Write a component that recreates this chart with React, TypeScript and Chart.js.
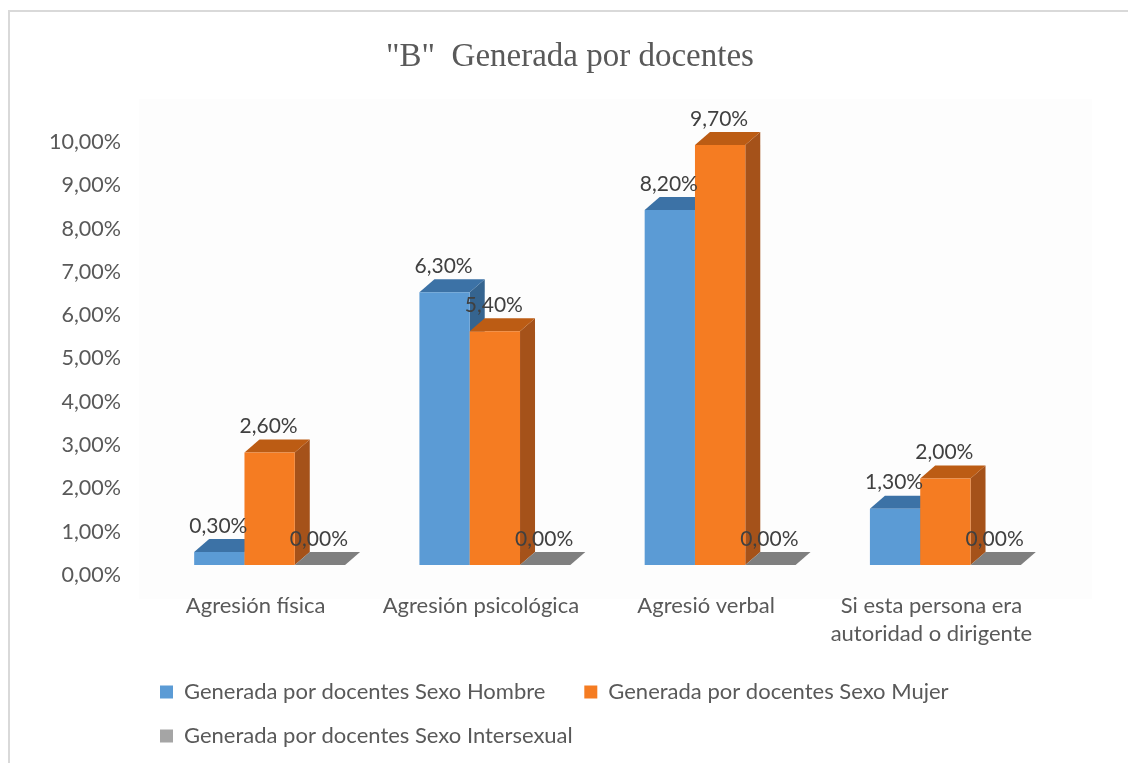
import React, { useEffect, useRef } from "react";
import { Chart, registerables } from "chart.js";

Chart.register(...registerables);

const titleText = '"B"  Generada por docentes';
const categories: (string | string[])[] = [
  "Agresión física",
  "Agresión psicológica",
  "Agresió verbal",
  ["Si esta persona era", "autoridad o dirigente"],
];
const seriesNames = [
  "Generada por docentes Sexo Hombre",
  "Generada por docentes Sexo Mujer",
  "Generada por docentes Sexo Intersexual",
];
const hombre = [0.3, 6.3, 8.2, 1.3];
const mujer = [2.6, 5.4, 9.7, 2.0];
const intersexual = [0, 0, 0, 0];
const frontColors = ["#5B9BD5", "#F57C22", "#A5A5A5"];
const topColors = ["#3C72A6", "#BC5C14", "#7F7F7F"];
const sideColors = ["#35648F", "#A5521A", "#6E6E6E"];

const DX = 15;
const DY = 13;
const FONT = "Lato, Carlito, sans-serif";
const fmt = (v: number) => v.toFixed(2).replace(".", ",") + "%";

const framePlugin = {
  id: "frame",
  beforeDraw(chart: any) {
    const c = chart.ctx;
    c.save();
    c.fillStyle = "#FDFDFD";
    c.fillRect(139, 99, 953, 500);
    c.fillStyle = "#D9D9D9";
    c.fillRect(8, 10, 2, 753);
    c.fillRect(8, 10, 1120, 2);
    c.restore();
  },
};

const legendPlacePlugin = {
  id: "legendPlace",
  afterLayout(chart: any) {
    const l = chart.legend;
    l.left = 138;
    l.top = 659;
  },
};

const bars3dPlugin = {
  id: "bars3d",
  beforeDatasetsDraw(chart: any) {
    const c = chart.ctx;
    chart.data.datasets.forEach((_ds: any, i: number) => {
      const meta = chart.getDatasetMeta(i);
      meta.data.forEach((el: any) => {
        const l = el.x - el.width / 2;
        const r = el.x + el.width / 2;
        const y = el.y;
        const b = el.base;
        c.fillStyle = sideColors[i];
        c.beginPath();
        c.moveTo(r, y);
        c.lineTo(r, b);
        c.lineTo(r + DX, b - DY);
        c.lineTo(r + DX, y - DY);
        c.closePath();
        c.fill();
        c.fillStyle = topColors[i];
        c.beginPath();
        c.moveTo(l, y);
        c.lineTo(r, y);
        c.lineTo(r + DX, y - DY);
        c.lineTo(l + DX, y - DY);
        c.closePath();
        c.fill();
        el.draw(c);
      });
    });
    c.save();
    c.font = `21px ${FONT}`;
    c.fillStyle = "#404040";
    c.textAlign = "center";
    c.textBaseline = "middle";
    chart.data.datasets.forEach((ds: any, i: number) => {
      chart.getDatasetMeta(i).data.forEach((el: any, j: number) => {
        c.fillText(fmt(ds.data[j]), el.x - 1, el.y - 26);
      });
    });
    c.restore();
    return false;
  },
};

export default function App() {
  const ref = useRef<HTMLCanvasElement>(null);
  useEffect(() => {
    document.body.style.overflow = "hidden";
    const values = [hombre, mujer, intersexual];
    const chart = new Chart(ref.current as HTMLCanvasElement, {
      type: "bar",
      data: {
        labels: categories as any,
        datasets: seriesNames.map((name, i) => ({
          label: name,
          data: values[i],
          backgroundColor: frontColors[i],
          borderWidth: 0,
          categoryPercentage: 0.67,
          barPercentage: 1,
        })),
      },
      options: {
        animation: false,
        responsive: false,
        layout: { padding: { left: 12, right: 0, top: 0, bottom: 0 } },
        plugins: {
          tooltip: { enabled: false },
          title: {
            display: true,
            text: titleText,
            color: "#595959",
            font: { family: "'Liberation Serif', serif", size: 33, weight: "normal", lineHeight: 1.2 },
            padding: { top: 38, bottom: 54.4 },
          },
          legend: {
            display: true,
            position: "bottom",
            align: "start",
            labels: {
              boxWidth: 13,
              boxHeight: 13,
              padding: 22,
              color: "#595959",
              font: { family: FONT, size: 22 },
              generateLabels(chart: any) {
                const items = Chart.defaults.plugins.legend.labels.generateLabels(chart);
                items.forEach((it: any) => {
                  if (it.datasetIndex === 0) it.text = it.text + "   ";
                });
                return items;
              },
            },
          },
        },
        scales: {
          x: {
            grid: { display: false },
            border: { display: false },
            afterFit: (s: any) => {
              s.height = 100;
            },
            ticks: {
              color: "#595959",
              font: { family: FONT, size: 22, lineHeight: 1.27 },
              padding: 19,
              labelOffset: -14,
              maxRotation: 0,
              autoSkip: false,
            },
          },
          y: {
            min: 0,
            max: 10,
            grid: { display: false },
            border: { display: false },
            afterFit: (s: any) => {
              s.width = 145;
            },
            ticks: {
              stepSize: 1,
              color: "#595959",
              font: { family: FONT, size: 21.5 },
              padding: 28,
              labelOffset: 10,
              callback: (v: any) => fmt(Number(v)),
            },
          },
          spacer: {
            position: "right",
            min: 0,
            max: 10,
            grid: { display: false },
            border: { display: false },
            ticks: { display: false },
            afterFit: (s: any) => {
              s.width = 70;
            },
          },
        },
      } as any,
      plugins: [framePlugin, legendPlacePlugin, bars3dPlugin],
    });
    return () => chart.destroy();
  }, []);
  return (
    <canvas
      ref={ref}
      width={1128}
      height={763}
      style={{ position: "fixed", left: 0, top: 0, display: "block" }}
    />
  );
}
